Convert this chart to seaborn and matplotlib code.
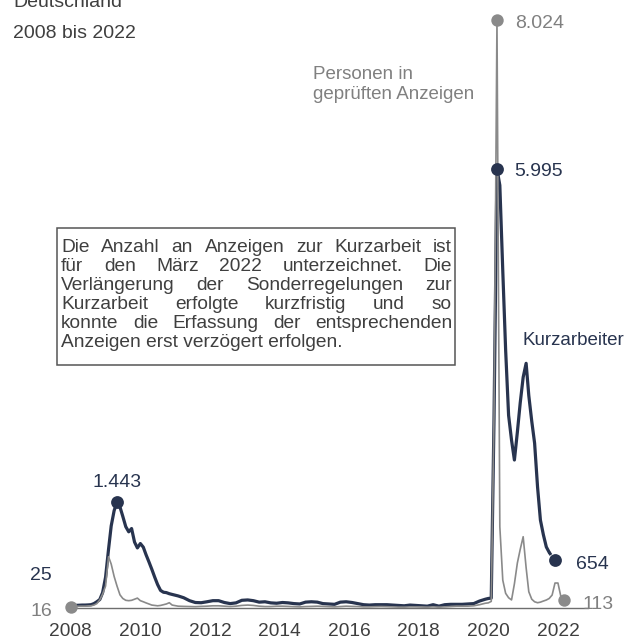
import pandas as pd
import matplotlib
matplotlib.use("Agg")
import matplotlib.pyplot as plt
from matplotlib.patches import Rectangle
import seaborn as sns

# Kurzarbeiter in Tsd. (monatlich, ruhige Jahre nur jeden 2. Monat)
kug_monat = ["2008-01", "2008-02", "2008-03", "2008-04", "2008-05", "2008-06", "2008-07", "2008-08", "2008-09", "2008-10", "2008-11", "2008-12",
             "2009-01", "2009-02", "2009-03", "2009-04", "2009-05", "2009-06", "2009-07", "2009-08", "2009-09", "2009-10", "2009-11", "2009-12",
             "2010-01", "2010-02", "2010-03", "2010-04", "2010-05", "2010-06", "2010-07", "2010-08", "2010-09", "2010-10", "2010-11", "2010-12",
             "2011-02", "2011-04", "2011-06", "2011-08", "2011-10", "2011-12",
             "2012-02", "2012-04", "2012-06", "2012-08", "2012-10", "2012-12",
             "2013-02", "2013-04", "2013-06", "2013-08", "2013-10", "2013-12",
             "2014-02", "2014-04", "2014-06", "2014-08", "2014-10", "2014-12",
             "2015-02", "2015-04", "2015-06", "2015-08", "2015-10", "2015-12",
             "2016-02", "2016-04", "2016-06", "2016-08", "2016-10", "2016-12",
             "2017-02", "2017-04", "2017-06", "2017-08", "2017-10", "2017-12",
             "2018-02", "2018-04", "2018-06", "2018-08", "2018-10", "2018-12",
             "2019-02", "2019-04", "2019-06", "2019-08", "2019-10", "2019-12",
             "2020-01", "2020-02", "2020-03", "2020-04", "2020-05", "2020-06", "2020-07", "2020-08", "2020-09", "2020-10", "2020-11", "2020-12",
             "2021-01", "2021-02", "2021-03", "2021-04", "2021-05", "2021-06", "2021-07", "2021-08", "2021-09", "2021-10"]
kug_wert = [25, 32, 36, 38, 40, 40, 42, 45, 60, 85, 115, 210,
            420, 800, 1120, 1330, 1443, 1380, 1250, 1110, 1040, 1085, 900, 820,
            880, 830, 730, 630, 530, 420, 320, 240, 215, 210, 195, 185,
            165, 140, 100, 75, 72, 85,
            100, 100, 75, 60, 70, 105,
            110, 100, 80, 85, 70, 65,
            75, 70, 60, 55, 80, 85,
            80, 60, 55, 50, 80, 85,
            75, 60, 45, 40, 45, 45,
            45, 40, 35, 30, 40, 35,
            30, 25, 45, 25, 45, 50,
            50, 50, 55, 60, 95, 120,
            130, 135, 2580, 5995, 5770, 4600, 3520, 2630, 2290, 2020, 2400, 2800,
            3150, 3340, 2900, 2550, 2250, 1650, 1200, 1000, 833, 760]
# vorlaeufiger Rand
kug_rand_monat = ["2021-10", "2021-11", "2021-12"]
kug_rand_wert = [760, 700, 654]

# Personen in geprueften Anzeigen in Tsd.
anz_monat = ["2008-01", "2008-02", "2008-03", "2008-04", "2008-05", "2008-06", "2008-07", "2008-08", "2008-09", "2008-10", "2008-11", "2008-12",
             "2009-01", "2009-02", "2009-03", "2009-04", "2009-05", "2009-06", "2009-07", "2009-08", "2009-09", "2009-10", "2009-11", "2009-12",
             "2010-01", "2010-02", "2010-03", "2010-04", "2010-05", "2010-06", "2010-07", "2010-08", "2010-09", "2010-10", "2010-11", "2010-12",
             "2011-02", "2011-04", "2011-06", "2011-08", "2011-10", "2011-12",
             "2012-02", "2012-04", "2012-06", "2012-08", "2012-10", "2012-12",
             "2013-02", "2013-04", "2013-06", "2013-08", "2013-10", "2013-12",
             "2014-02", "2014-04", "2014-06", "2014-08", "2014-10", "2014-12",
             "2015-02", "2015-04", "2015-06", "2015-08", "2015-10", "2015-12",
             "2016-02", "2016-04", "2016-06", "2016-08", "2016-10", "2016-12",
             "2017-02", "2017-04", "2017-06", "2017-08", "2017-10", "2017-12",
             "2018-02", "2018-04", "2018-06", "2018-08", "2018-10", "2018-12",
             "2019-02", "2019-04", "2019-06", "2019-08", "2019-10", "2019-12",
             "2020-01", "2020-02", "2020-03", "2020-04", "2020-05", "2020-06", "2020-07", "2020-08", "2020-09", "2020-10", "2020-11", "2020-12",
             "2021-01", "2021-02", "2021-03", "2021-04", "2021-05", "2021-06", "2021-07", "2021-08", "2021-09", "2021-10", "2021-11", "2021-12",
             "2022-01", "2022-02", "2022-03"]
anz_wert = [16, 20, 22, 25, 25, 25, 28, 30, 40, 60, 110, 190,
            300, 700, 600, 430, 300, 180, 130, 105, 100, 105, 120, 135,
            100, 85, 70, 55, 40, 35, 30, 35, 45, 55, 72, 40,
            25, 22, 20, 18, 22, 25,
            30, 30, 25, 20, 25, 35,
            40, 35, 25, 20, 20, 25,
            25, 22, 18, 15, 20, 22,
            25, 22, 18, 15, 20, 25,
            22, 20, 15, 15, 18, 20,
            18, 15, 12, 12, 15, 15,
            15, 12, 15, 12, 15, 20,
            25, 25, 25, 30, 45, 65,
            70, 90, 2640, 8024, 1110, 380, 200, 140, 110, 330, 614, 800,
            973, 550, 222, 120, 85, 72, 80, 95, 109, 130, 177, 341,
            341, 154, 113]

jahre = [2008, 2010, 2012, 2014, 2016, 2018, 2020, 2022]

notiz = ["Die Anzahl an Anzeigen zur Kurzarbeit ist",
         "für den März 2022 unterzeichnet. Die",
         "Verlängerung der Sonderregelungen zur",
         "Kurzarbeit erfolgte kurzfristig und so",
         "konnte die Erfassung der entsprechenden",
         "Anzeigen erst verzögert erfolgen."]

navy = "#28344f"
grau = "#8a8a8a"
text_grau = "#3f3f3f"

sns.set_theme(style="white")
plt.rcParams['font.family'] = ['Liberation Sans', 'DejaVu Sans']

kug = pd.DataFrame({"monat": pd.to_datetime(kug_monat), "wert": kug_wert})
kug_rand = pd.DataFrame({"monat": pd.to_datetime(kug_rand_monat), "wert": kug_rand_wert})
anz = pd.DataFrame({"monat": pd.to_datetime(anz_monat), "wert": anz_wert})

W, H = 642, 640
fig = plt.figure(figsize=(W / 100, H / 100), dpi=100)
ax = fig.add_axes([70 / W, 32 / H, (588 - 70) / W, (608 - 10) / H])

sns.lineplot(data=kug, x="monat", y="wert", ax=ax, color=navy, linewidth=2.3, zorder=3)
sns.lineplot(data=kug_rand, x="monat", y="wert", ax=ax, color=navy, linewidth=2.3, linestyle=(0, (1, 1.2)), zorder=3)
sns.lineplot(data=anz, x="monat", y="wert", ax=ax, color=grau, linewidth=1.2, zorder=4)

# Punkte an markanten Stellen
kug_pkt = pd.concat([kug[kug.wert.isin([1443, 5995])], kug_rand.tail(1)])
anz_pkt = anz.iloc[[0, anz.wert.idxmax(), len(anz) - 1]]
ax.scatter(kug_pkt.monat, kug_pkt.wert, s=85, color=navy, zorder=5, clip_on=False, linewidths=0)
ax.scatter(anz_pkt.monat, anz_pkt.wert, s=80, color=grau, zorder=6, clip_on=False, linewidths=0)

start = pd.Timestamp("2008-01-01")
tage_pro_px = 365.25 / 34.8
ax.set_xlim(start - pd.Timedelta(days=0.7 * tage_pro_px), start + pd.Timedelta(days=(588 - 70.7) * tage_pro_px))
ax.set_ylim(0, (608 - 10) / 0.07326)

ax.set_xticks([pd.Timestamp(f"{j}-01-01") for j in jahre])
ax.set_xticklabels([str(j) for j in jahre], fontsize=13.8, color=text_grau)
ax.tick_params(axis="x", length=0, pad=10.5)
ax.set_yticks([])
ax.set_xlabel("")
ax.set_ylabel("")
for s in ["top", "left", "right"]:
    ax.spines[s].set_visible(False)
ax.spines["bottom"].set_color("#6e6e6e")
ax.spines["bottom"].set_linewidth(1.0)


def wert_label(text, monat, wert, dx, dy, farbe, ha="left"):
    # dx, dy in Pixel, dy = Versatz der Textmitte nach unten
    basis = dy + 7
    ax.annotate(text, xy=(pd.Timestamp(monat), wert), xytext=(dx * 0.72, -basis * 0.72),
                textcoords="offset points", ha=ha, va="baseline", fontsize=14, color=farbe,
                annotation_clip=False)


wert_label("8.024", "2020-04", 8024, 18.5, 1, "#808080")
wert_label("5.995", "2020-04", 5995, 17.5, 0, navy)
wert_label("1.443", "2009-05", 1443, 0, -22, navy, ha="center")
wert_label("654", "2021-12", 654, 21, 2, navy)
wert_label("113", "2022-03", 113, 19, 2, "#808080")
wert_label("25", "2008-01", 25, -18.5, -33, navy, ha="right")
wert_label("16", "2008-01", 16, -18.5, 2, "#808080", ha="right")


def px(x, y):
    return x / W, 1 - y / H


fig.text(*px(13, 7), "Deutschland", fontsize=14, color=text_grau, va="baseline")
fig.text(*px(13, 38.5), "2008 bis 2022", fontsize=14, color=text_grau, va="baseline")
fig.text(*px(313, 79), "Personen in", fontsize=13.5, color="#808080", va="baseline")
fig.text(*px(313, 99), "geprüften Anzeigen", fontsize=13.5, color="#808080", va="baseline")
fig.text(*px(523, 345), "Kurzarbeiter", fontsize=13.5, color=navy, va="baseline")

# Hinweiskasten mit Blocksatz
fig.add_artist(Rectangle(px(57, 365), 398 / W, 137 / H, transform=fig.transFigure,
                         fill=False, edgecolor="#555555", linewidth=1.1))
renderer = fig.canvas.get_renderer()
links, rechts = 61, 452
for i, zeile in enumerate(notiz):
    y = 252 + 19 * i
    woerter = zeile.split()
    if i == len(notiz) - 1:
        fig.text(*px(links, y), zeile, fontsize=13.8, color=text_grau, va="baseline")
        continue
    breiten = []
    for w in woerter:
        t = fig.text(0, 0, w, fontsize=13.8)
        breiten.append(t.get_window_extent(renderer).width)
        t.remove()
    luecke = (rechts - links - sum(breiten)) / (len(woerter) - 1)
    x = links
    for w, b in zip(woerter, breiten):
        fig.text(*px(x, y), w, fontsize=13.8, color=text_grau, va="baseline")
        x += b + luecke

fig.savefig("out.png", dpi=100)
